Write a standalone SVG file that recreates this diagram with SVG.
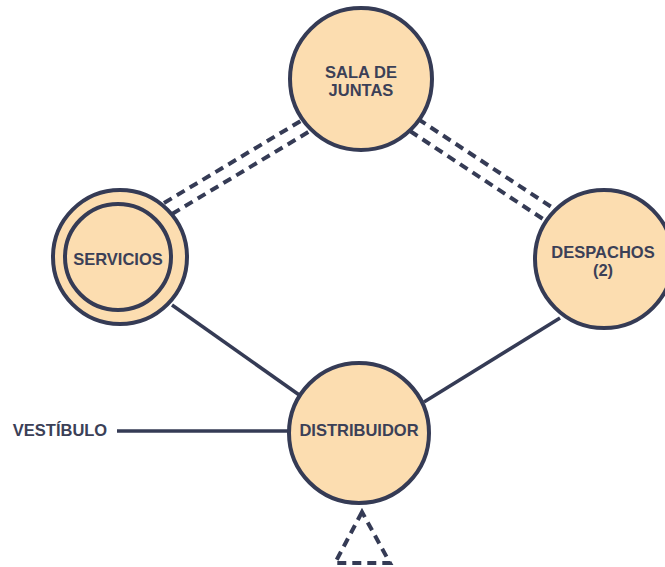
<svg xmlns="http://www.w3.org/2000/svg" width="665" height="567" viewBox="0 0 665 567">
<style>
.node{fill:#FCDDB0;stroke:#353B55;stroke-width:4}
.ring{fill:none;stroke:#353B55;stroke-width:4}
.lbl{font-family:"Liberation Sans",Arial,sans-serif;font-weight:bold;font-size:16.5px;fill:#3B4057;text-anchor:middle}
.solid{stroke:#353B55;stroke-width:3.5;fill:none}
.dash{stroke:#353B55;stroke-width:4;fill:none;stroke-dasharray:9 6}
</style>
<rect width="665" height="567" fill="#FFFFFF"/>
<g id="connectors">
<line class="dash" x1="164" y1="203" x2="304" y2="119"/>
<line class="dash" x1="172" y1="214" x2="310" y2="131"/>
<line class="dash" x1="418" y1="119" x2="556" y2="210"/>
<line class="dash" x1="410" y1="131" x2="546" y2="221"/>
<line class="solid" x1="172" y1="305" x2="312" y2="404"/>
<line class="solid" x1="560" y1="318" x2="424" y2="402"/>
<line class="solid" x1="117" y1="431" x2="292" y2="431"/>
<polygon class="dash" points="362,512 335,563 390,563"/>
</g>
<g id="sala">
<circle class="node" cx="361" cy="79" r="71"/>
<text class="lbl" x="361" y="78">SALA DE</text>
<text class="lbl" x="361" y="96">JUNTAS</text>
</g>
<g id="servicios">
<circle class="node" cx="120" cy="257" r="67"/>
<circle class="ring" cx="118" cy="257" r="53"/>
<text class="lbl" x="118" y="265">SERVICIOS</text>
</g>
<g id="despachos">
<circle class="node" cx="604" cy="259" r="69"/>
<text class="lbl" x="603" y="258">DESPACHOS</text>
<text class="lbl" x="603" y="276">(2)</text>
</g>
<g id="distribuidor">
<circle class="node" cx="359" cy="433" r="70"/>
<text class="lbl" x="359" y="436">DISTRIBUIDOR</text>
</g>
<g id="vestibulo">
<text class="lbl" x="60" y="436">VESTÍBULO</text>
</g>
</svg>
